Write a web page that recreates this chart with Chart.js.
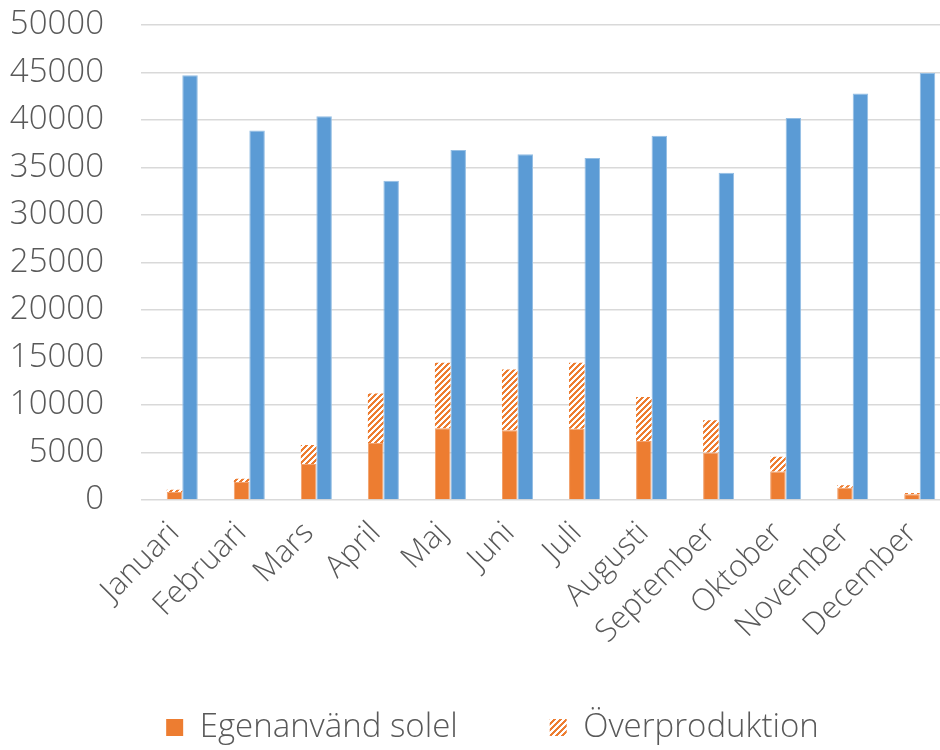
<!DOCTYPE html>
<html lang="sv">
<head>
<meta charset="utf-8">
<title>Solel per månad</title>
<script src="https://cdn.jsdelivr.net/npm/chart.js@4/dist/chart.umd.min.js"></script>
<style>
  html, body { margin: 0; padding: 0; background: #ffffff; overflow: hidden; }
  #wrap { width: 985px; height: 750px; }
</style>
</head>
<body>
<div id="wrap"><canvas id="chart" width="985" height="750"></canvas></div>
<script>
// Månader
const months = ['Januari', 'Februari', 'Mars', 'April', 'Maj', 'Juni', 'Juli',
                'Augusti', 'September', 'Oktober', 'November', 'December'];
// Egenanvänd solel (kWh)
const selfUsed = [850, 1900, 3800, 6000, 7550, 7350, 7500, 6200, 5000, 3000, 1300, 600];
// Överproduktion (kWh)
const surplus = [230, 350, 2000, 5200, 6900, 6400, 6950, 4650, 3400, 1550, 250, 150];
// Elförbrukning (kWh)
const consumption = [44700, 38900, 40400, 33600, 36850, 36400, 36000, 38350, 34450, 40200, 42800, 44950];
// Y-axelns steg
const yTicks = [0, 5000, 10000, 15000, 20000, 25000, 30000, 35000, 40000, 45000, 50000];

const ORANGE = '#ED7D31';
const ORANGE_EDGE = '#F2A26E';
const BLUE = '#5B9BD5';
const BLUE_EDGE = '#94BEE4';
const TEXT = '#595959';
const GRID = '#d9d9d9';
const FONT = '"Open Sans", "Liberation Sans", sans-serif';
const LEGEND_GAP = 92;

// Diagonal hatch for the surplus part of each bar
function makeHatch() {
  const size = 6;
  const c = document.createElement('canvas');
  c.width = size; c.height = size;
  const g = c.getContext('2d');
  g.fillStyle = '#ffffff';
  g.fillRect(0, 0, size, size);
  g.fillStyle = ORANGE;
  for (let y = 0; y < size; y++) {
    for (let x = 0; x < size; x++) {
      if ((x + y) % size < 3) g.fillRect(x, y, 1, 1);
    }
  }
  return g.createPattern(c, 'repeat');
}
const hatch = makeHatch();

// The wide gap between legend items also pads the legend vertically;
// lift the legend box so its single row lands near the bottom edge.
const legendLift = {
  id: 'legendLift',
  afterLayout(chart) {
    const lg = chart.legend;
    if (!lg) return;
    lg.top -= 95;
    lg.height = lg.bottom - lg.top;
  }
};

const ctx = document.getElementById('chart').getContext('2d');
new Chart(ctx, {
  type: 'bar',
  data: {
    labels: months,
    datasets: [
      { label: '', data: months.map(() => null), stack: 'tom', backgroundColor: 'rgba(0,0,0,0)' },
      { label: 'Egenanvänd solel', data: selfUsed, stack: 'sol', backgroundColor: ORANGE,
        borderColor: ORANGE_EDGE, borderWidth: 1 },
      { label: 'Överproduktion', data: surplus, stack: 'sol', backgroundColor: hatch, borderWidth: 0 },
      { label: 'Elförbrukning', data: consumption, stack: 'el', backgroundColor: BLUE,
        borderColor: BLUE_EDGE, borderWidth: 1 }
    ]
  },
  plugins: [legendLift],
  options: {
    responsive: false,
    animation: false,
    events: [],
    layout: { padding: { top: 25, bottom: 0, left: 0, right: 0 } },
    datasets: {
      bar: { categoryPercentage: 0.694, barPercentage: 1.0 }
    },
    scales: {
      x: {
        stacked: true,
        grid: { display: false },
        border: { display: false },
        ticks: {
          color: TEXT,
          font: { family: FONT, size: 31, weight: 300 },
          minRotation: 45,
          maxRotation: 45,
          padding: 7,
          autoSkip: false
        },
        afterFit(scale) { scale.height = 214; }
      },
      y: {
        stacked: true,
        min: 0,
        max: 50000,
        afterBuildTicks(scale) { scale.ticks = yTicks.map(v => ({ value: v })); },
        grid: { color: GRID, lineWidth: 1.5, drawTicks: true, tickLength: 35, tickColor: 'rgba(0,0,0,0)' },
        border: { display: false },
        ticks: {
          color: TEXT,
          font: { family: FONT, size: 33, weight: 300 },
          padding: 2,
          callback: (v) => String(v)
        },
        afterFit(scale) { scale.width = 141; }
      },
      yRight: {
        position: 'right',
        display: true,
        grid: { display: false },
        border: { display: false },
        ticks: { display: false },
        afterFit(scale) { scale.width = 39.5; }
      }
    },
    plugins: {
      tooltip: { enabled: false },
      legend: {
        position: 'bottom',
        maxHeight: 36,
        labels: {
          filter: (item) => item.text === 'Egenanvänd solel' || item.text === 'Överproduktion',
          color: TEXT,
          font: { family: FONT, size: 33, weight: 300 },
          boxWidth: 17,
          boxHeight: 17,
          padding: LEGEND_GAP,
          generateLabels(chart) {
            const items = Chart.defaults.plugins.legend.labels.generateLabels(chart);
            items.forEach(it => { it.lineWidth = 0; });
            return items;
          }
        }
      }
    }
  }
});
</script>
</body>
</html>
